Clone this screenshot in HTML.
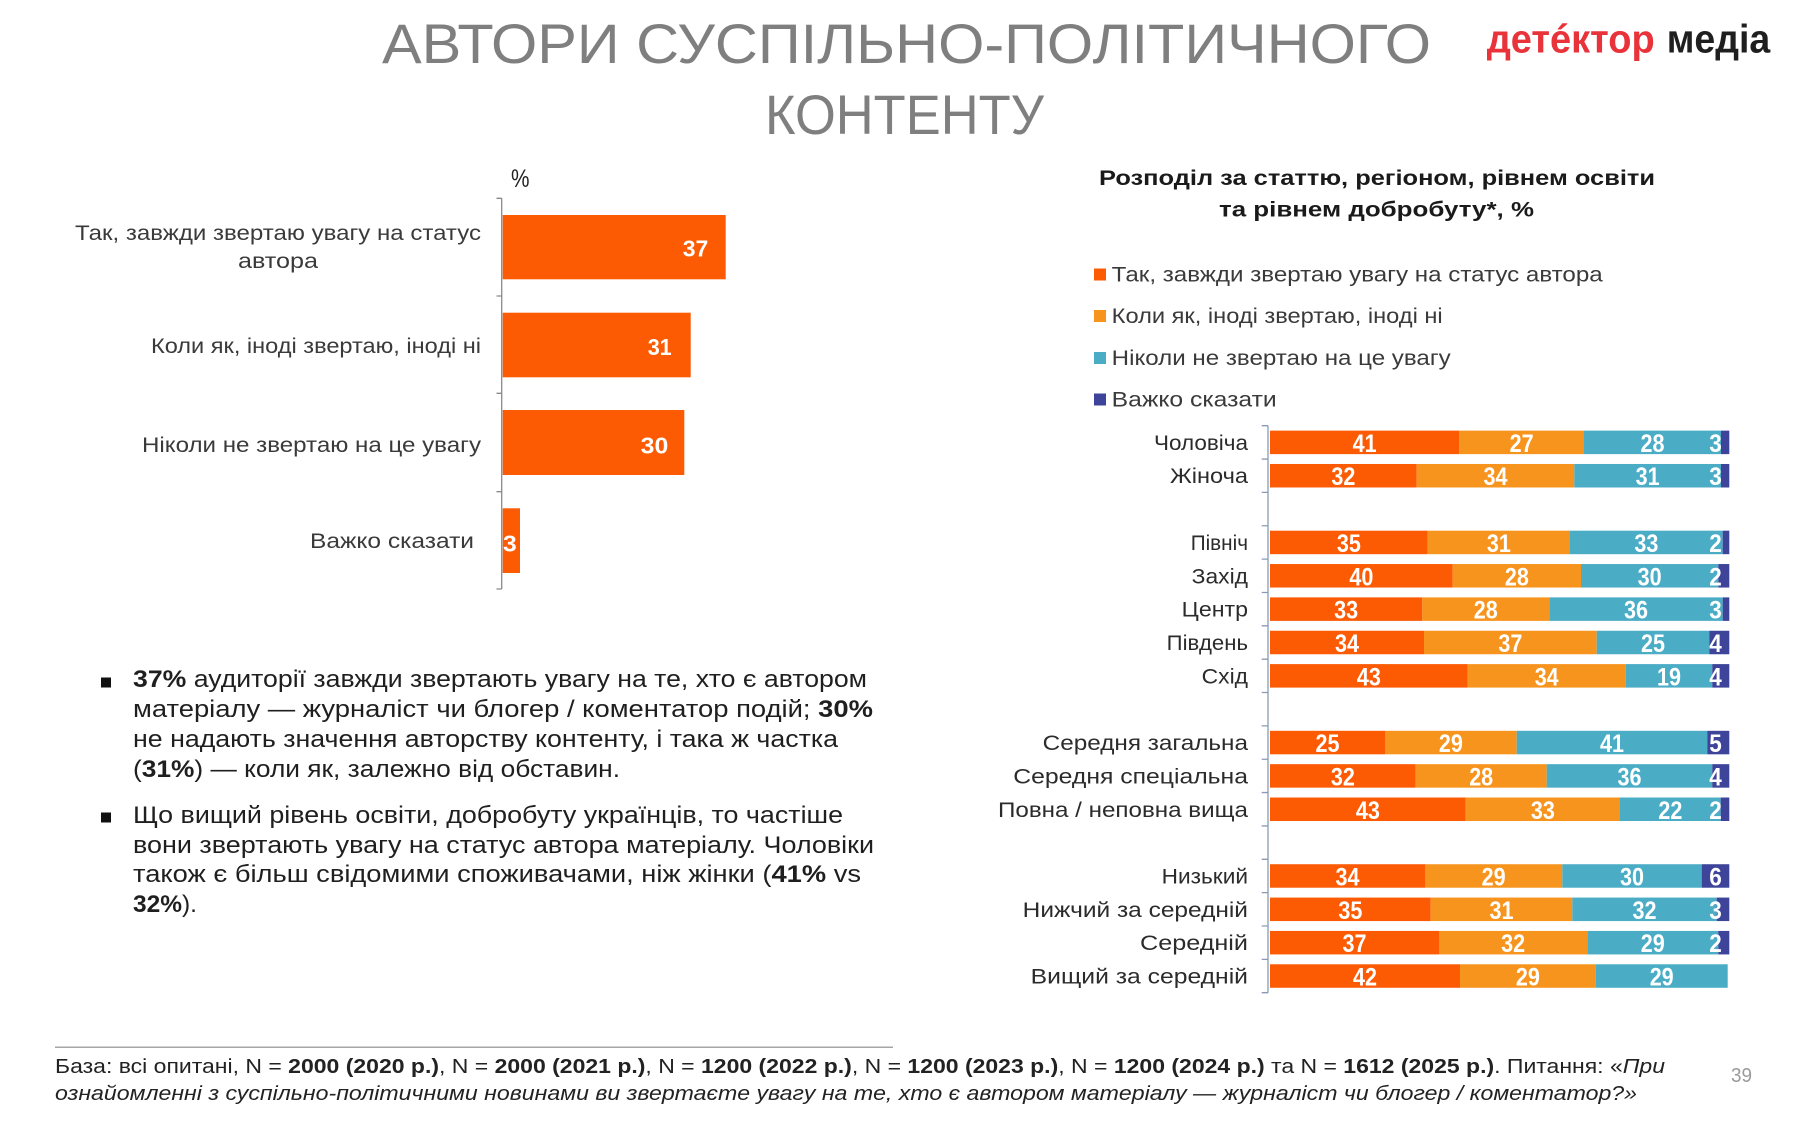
<!DOCTYPE html>
<html>
<head>
<meta charset="utf-8">
<style>
  html,body{margin:0;padding:0;background:#fff;}
  body{width:1800px;height:1125px;overflow:hidden;}
  svg{display:block;}
  text{font-family:"Liberation Sans", "DejaVu Sans", sans-serif;}
  .title{font-size:56px;fill:#7f7f7f;}
  .lab{font-size:21px;fill:#3a3a3a;}
  .cat{font-size:21px;fill:#2b2b2b;}
  .val{font-size:25px;font-weight:bold;fill:#fff;}
  .lval{font-size:23px;font-weight:bold;fill:#fff;}
  .bul{font-size:24px;fill:#1f1f1f;}
  .foot{font-size:20px;fill:#222;}
  .b{font-weight:bold;}
</style>
</head>
<body>
<svg width="1800" height="1125" viewBox="0 0 1800 1125" xmlns="http://www.w3.org/2000/svg">
  <rect x="0" y="0" width="1800" height="1125" fill="#fff"/>

  <!-- Title -->
  <text class="title" x="382" y="63" textLength="1049" lengthAdjust="spacingAndGlyphs">АВТОРИ СУСПІЛЬНО-ПОЛІТИЧНОГО</text>
  <text class="title" x="765" y="134" textLength="279" lengthAdjust="spacingAndGlyphs">КОНТЕНТУ</text>

  <!-- Logo -->
  <text x="1486.7" y="52.7" font-size="40" font-weight="bold" fill="#e8333a" textLength="168" lengthAdjust="spacingAndGlyphs">детéктор</text>
  <text x="1666.7" y="52.7" font-size="40" font-weight="bold" fill="#1f1f1f" textLength="103.5" lengthAdjust="spacingAndGlyphs">медіа</text>

  <!-- LEFT CHART -->
  <text x="511" y="187" font-size="25" fill="#222" textLength="18.5" lengthAdjust="spacingAndGlyphs">%</text>
  <line x1="501.7" y1="198.3" x2="501.7" y2="589" stroke="#8a8a8a" stroke-width="1.3"/>
  <path d="M496.5 198.3H501.7M496.5 296H501.7M496.5 393.3H501.7M496.5 491.7H501.7M496.5 589H501.7" stroke="#8a8a8a" stroke-width="1.3"/>

  <rect x="502.7" y="215" width="223" height="64.3" fill="#fc5a03"/>
  <rect x="502.7" y="312.7" width="188" height="64.6" fill="#fc5a03"/>
  <rect x="502.7" y="410" width="181.6" height="65" fill="#fc5a03"/>
  <rect x="502.7" y="508.3" width="17.3" height="64.7" fill="#fc5a03"/>

  <text class="lval" x="682.7" y="256.7" textLength="25.6" lengthAdjust="spacingAndGlyphs">37</text>
  <text class="lval" x="647.7" y="355" textLength="24" lengthAdjust="spacingAndGlyphs">31</text>
  <text class="lval" x="640.7" y="453.3" textLength="27.6" lengthAdjust="spacingAndGlyphs">30</text>
  <text class="lval" x="503" y="551.7" textLength="13.7" lengthAdjust="spacingAndGlyphs">3</text>

  <text class="lab" x="75" y="240" textLength="406" lengthAdjust="spacingAndGlyphs">Так, завжди звертаю увагу на статус</text>
  <text class="lab" x="238" y="268" textLength="80" lengthAdjust="spacingAndGlyphs">автора</text>
  <text class="lab" x="151" y="353" textLength="330" lengthAdjust="spacingAndGlyphs">Коли як, іноді звертаю, іноді ні</text>
  <text class="lab" x="142" y="452" textLength="339" lengthAdjust="spacingAndGlyphs">Ніколи не звертаю на це увагу</text>
  <text class="lab" x="310" y="548" textLength="164" lengthAdjust="spacingAndGlyphs">Важко сказати</text>

  <!-- Bullets -->
  <rect x="101" y="677.5" width="10" height="10" fill="#111"/>
  <rect x="101" y="812.5" width="10" height="10" fill="#111"/>
  <text class="bul" x="133" y="687" textLength="734" lengthAdjust="spacingAndGlyphs"><tspan class="b">37%</tspan> аудиторії завжди звертають увагу на те, хто є автором</text>
  <text class="bul" x="133" y="717" textLength="740" lengthAdjust="spacingAndGlyphs">матеріалу — журналіст чи блогер / коментатор подій; <tspan class="b">30%</tspan></text>
  <text class="bul" x="133" y="747" textLength="705" lengthAdjust="spacingAndGlyphs">не надають значення авторству контенту, і така ж частка</text>
  <text class="bul" x="133" y="777" textLength="487" lengthAdjust="spacingAndGlyphs">(<tspan class="b">31%</tspan>) — коли як, залежно від обставин.</text>
  <text class="bul" x="133" y="823" textLength="710" lengthAdjust="spacingAndGlyphs">Що вищий рівень освіти, добробуту українців, то частіше</text>
  <text class="bul" x="133" y="853" textLength="741" lengthAdjust="spacingAndGlyphs">вони звертають увагу на статус автора матеріалу. Чоловіки</text>
  <text class="bul" x="133" y="882" textLength="728" lengthAdjust="spacingAndGlyphs">також є більш свідомими споживачами, ніж жінки (<tspan class="b">41%</tspan> vs</text>
  <text class="bul" x="133" y="912" textLength="64" lengthAdjust="spacingAndGlyphs"><tspan class="b">32%</tspan>).</text>

  <!-- RIGHT CHART title -->
  <text x="1099" y="185" font-size="21" font-weight="bold" fill="#1a1a1a" textLength="556" lengthAdjust="spacingAndGlyphs">Розподіл за статтю, регіоном, рівнем освіти</text>
  <text x="1219" y="216.7" font-size="21" font-weight="bold" fill="#1a1a1a" textLength="315" lengthAdjust="spacingAndGlyphs">та рівнем добробуту*, %</text>

  <!-- Legend -->
  <rect x="1094" y="268.5" width="12" height="12" fill="#fc5a03"/>
  <rect x="1094" y="310" width="12" height="12" fill="#f7941e"/>
  <rect x="1094" y="352" width="12" height="12" fill="#4bacc6"/>
  <rect x="1094" y="393.5" width="12" height="12" fill="#3d4499"/>
  <text class="lab" x="1111.7" y="281.5" textLength="491" lengthAdjust="spacingAndGlyphs">Так, завжди звертаю увагу на статус автора</text>
  <text class="lab" x="1111.7" y="323" textLength="331" lengthAdjust="spacingAndGlyphs">Коли як, іноді звертаю, іноді ні</text>
  <text class="lab" x="1111.7" y="365" textLength="339" lengthAdjust="spacingAndGlyphs">Ніколи не звертаю на це увагу</text>
  <text class="lab" x="1111.7" y="406.5" textLength="165" lengthAdjust="spacingAndGlyphs">Важко сказати</text>

  <!-- Axis -->
  <line x1="1268" y1="425.7" x2="1268" y2="992.7" stroke="#8a9ab5" stroke-width="1.3"/>
  <path d="M1261.7 425.7H1268M1261.7 459.05H1268M1261.7 492.41H1268M1261.7 525.76H1268M1261.7 559.11H1268M1261.7 592.47H1268M1261.7 625.82H1268M1261.7 659.17H1268M1261.7 692.52H1268M1261.7 725.88H1268M1261.7 759.23H1268M1261.7 792.58H1268M1261.7 825.94H1268M1261.7 859.29H1268M1261.7 892.64H1268M1261.7 926H1268M1261.7 959.35H1268M1261.7 992.7H1268" stroke="#8a9ab5" stroke-width="1.3"/>

  <!-- Category labels -->
  <text class="cat" x="1154" y="449.9" textLength="94" lengthAdjust="spacingAndGlyphs">Чоловіча</text>
  <text class="cat" x="1170" y="483.2" textLength="78" lengthAdjust="spacingAndGlyphs">Жіноча</text>
  <text class="cat" x="1190.7" y="549.9" textLength="57.3" lengthAdjust="spacingAndGlyphs">Північ</text>
  <text class="cat" x="1191.7" y="583.3" textLength="56.3" lengthAdjust="spacingAndGlyphs">Захід</text>
  <text class="cat" x="1181.7" y="616.6" textLength="66.3" lengthAdjust="spacingAndGlyphs">Центр</text>
  <text class="cat" x="1166.7" y="650" textLength="81.3" lengthAdjust="spacingAndGlyphs">Південь</text>
  <text class="cat" x="1201.7" y="683.4" textLength="46.3" lengthAdjust="spacingAndGlyphs">Схід</text>
  <text class="cat" x="1042.7" y="750.1" textLength="205.3" lengthAdjust="spacingAndGlyphs">Середня загальна</text>
  <text class="cat" x="1013.3" y="783.4" textLength="234.7" lengthAdjust="spacingAndGlyphs">Середня спеціальна</text>
  <text class="cat" x="998" y="816.8" textLength="250" lengthAdjust="spacingAndGlyphs">Повна / неповна вища</text>
  <text class="cat" x="1161.7" y="883.5" textLength="86.3" lengthAdjust="spacingAndGlyphs">Низький</text>
  <text class="cat" x="1022.7" y="916.8" textLength="225.3" lengthAdjust="spacingAndGlyphs">Нижчий за середній</text>
  <text class="cat" x="1140" y="950.2" textLength="108" lengthAdjust="spacingAndGlyphs">Середній</text>
  <text class="cat" x="1030.7" y="983.5" textLength="217.3" lengthAdjust="spacingAndGlyphs">Вищий за середній</text>

  <!-- Bars -->
  <g>
    <rect x="1270" y="430.63" width="189.3" height="23.5" fill="#fc5a03"/>
    <rect x="1459.3" y="430.63" width="124.7" height="23.5" fill="#f7941e"/>
    <rect x="1584" y="430.63" width="137" height="23.5" fill="#4bacc6"/>
    <rect x="1721" y="430.63" width="8.3" height="23.5" fill="#3d4499"/>

    <rect x="1270" y="463.98" width="146.7" height="23.5" fill="#fc5a03"/>
    <rect x="1416.7" y="463.98" width="157.6" height="23.5" fill="#f7941e"/>
    <rect x="1574.3" y="463.98" width="146.7" height="23.5" fill="#4bacc6"/>
    <rect x="1721" y="463.98" width="8.3" height="23.5" fill="#3d4499"/>

    <rect x="1270" y="530.69" width="157.7" height="23.5" fill="#fc5a03"/>
    <rect x="1427.7" y="530.69" width="142.3" height="23.5" fill="#f7941e"/>
    <rect x="1570" y="530.69" width="152.7" height="23.5" fill="#4bacc6"/>
    <rect x="1722.7" y="530.69" width="6.6" height="23.5" fill="#3d4499"/>

    <rect x="1270" y="564.04" width="182.7" height="23.5" fill="#fc5a03"/>
    <rect x="1452.7" y="564.04" width="128.3" height="23.5" fill="#f7941e"/>
    <rect x="1581" y="564.04" width="137.3" height="23.5" fill="#4bacc6"/>
    <rect x="1718.3" y="564.04" width="11" height="23.5" fill="#3d4499"/>

    <rect x="1270" y="597.39" width="152.3" height="23.5" fill="#fc5a03"/>
    <rect x="1422.3" y="597.39" width="127" height="23.5" fill="#f7941e"/>
    <rect x="1549.3" y="597.39" width="173.4" height="23.5" fill="#4bacc6"/>
    <rect x="1722.7" y="597.39" width="6.6" height="23.5" fill="#3d4499"/>

    <rect x="1270" y="630.75" width="154" height="23.5" fill="#fc5a03"/>
    <rect x="1424" y="630.75" width="172.7" height="23.5" fill="#f7941e"/>
    <rect x="1596.7" y="630.75" width="112.6" height="23.5" fill="#4bacc6"/>
    <rect x="1709.3" y="630.75" width="20" height="23.5" fill="#3d4499"/>

    <rect x="1270" y="664.1" width="197.7" height="23.5" fill="#fc5a03"/>
    <rect x="1467.7" y="664.1" width="158" height="23.5" fill="#f7941e"/>
    <rect x="1625.7" y="664.1" width="86.6" height="23.5" fill="#4bacc6"/>
    <rect x="1712.3" y="664.1" width="17" height="23.5" fill="#3d4499"/>

    <rect x="1270" y="730.81" width="115" height="23.5" fill="#fc5a03"/>
    <rect x="1385" y="730.81" width="131.7" height="23.5" fill="#f7941e"/>
    <rect x="1516.7" y="730.81" width="190.6" height="23.5" fill="#4bacc6"/>
    <rect x="1707.3" y="730.81" width="22" height="23.5" fill="#3d4499"/>

    <rect x="1270" y="764.16" width="145.7" height="23.5" fill="#fc5a03"/>
    <rect x="1415.7" y="764.16" width="131" height="23.5" fill="#f7941e"/>
    <rect x="1546.7" y="764.16" width="165.6" height="23.5" fill="#4bacc6"/>
    <rect x="1712.3" y="764.16" width="17" height="23.5" fill="#3d4499"/>

    <rect x="1270" y="797.51" width="195.7" height="23.5" fill="#fc5a03"/>
    <rect x="1465.7" y="797.51" width="154.3" height="23.5" fill="#f7941e"/>
    <rect x="1620" y="797.51" width="100.7" height="23.5" fill="#4bacc6"/>
    <rect x="1720.7" y="797.51" width="8.6" height="23.5" fill="#3d4499"/>

    <rect x="1270" y="864.22" width="155" height="23.5" fill="#fc5a03"/>
    <rect x="1425" y="864.22" width="137.3" height="23.5" fill="#f7941e"/>
    <rect x="1562.3" y="864.22" width="139.4" height="23.5" fill="#4bacc6"/>
    <rect x="1701.7" y="864.22" width="27.6" height="23.5" fill="#3d4499"/>

    <rect x="1270" y="897.57" width="160.7" height="23.5" fill="#fc5a03"/>
    <rect x="1430.7" y="897.57" width="141.6" height="23.5" fill="#f7941e"/>
    <rect x="1572.3" y="897.57" width="144.4" height="23.5" fill="#4bacc6"/>
    <rect x="1716.7" y="897.57" width="12.6" height="23.5" fill="#3d4499"/>

    <rect x="1270" y="930.93" width="169" height="23.5" fill="#fc5a03"/>
    <rect x="1439" y="930.93" width="148.3" height="23.5" fill="#f7941e"/>
    <rect x="1587.3" y="930.93" width="131" height="23.5" fill="#4bacc6"/>
    <rect x="1718.3" y="930.93" width="11" height="23.5" fill="#3d4499"/>

    <rect x="1270" y="964.28" width="190" height="23.5" fill="#fc5a03"/>
    <rect x="1460" y="964.28" width="135.7" height="23.5" fill="#f7941e"/>
    <rect x="1595.7" y="964.28" width="132" height="23.5" fill="#4bacc6"/>
  </g>

  <!-- Value labels -->
  <g>
    <text class="val" x="1352.65" y="451.9" textLength="24" lengthAdjust="spacingAndGlyphs">41</text>
    <text class="val" x="1509.65" y="451.9" textLength="24" lengthAdjust="spacingAndGlyphs">27</text>
    <text class="val" x="1640.5" y="451.9" textLength="24" lengthAdjust="spacingAndGlyphs">28</text>
    <text class="val" x="1709.25" y="451.9" textLength="12.5" lengthAdjust="spacingAndGlyphs">3</text>

    <text class="val" x="1331.35" y="485.2" textLength="24" lengthAdjust="spacingAndGlyphs">32</text>
    <text class="val" x="1483.5" y="485.2" textLength="24" lengthAdjust="spacingAndGlyphs">34</text>
    <text class="val" x="1635.65" y="485.2" textLength="24" lengthAdjust="spacingAndGlyphs">31</text>
    <text class="val" x="1709.25" y="485.2" textLength="12.5" lengthAdjust="spacingAndGlyphs">3</text>

    <text class="val" x="1336.85" y="551.9" textLength="24" lengthAdjust="spacingAndGlyphs">35</text>
    <text class="val" x="1486.85" y="551.9" textLength="24" lengthAdjust="spacingAndGlyphs">31</text>
    <text class="val" x="1634.35" y="551.9" textLength="24" lengthAdjust="spacingAndGlyphs">33</text>
    <text class="val" x="1709.25" y="551.9" textLength="12.5" lengthAdjust="spacingAndGlyphs">2</text>

    <text class="val" x="1349.35" y="585.3" textLength="24" lengthAdjust="spacingAndGlyphs">40</text>
    <text class="val" x="1504.85" y="585.3" textLength="24" lengthAdjust="spacingAndGlyphs">28</text>
    <text class="val" x="1637.65" y="585.3" textLength="24" lengthAdjust="spacingAndGlyphs">30</text>
    <text class="val" x="1709.25" y="585.3" textLength="12.5" lengthAdjust="spacingAndGlyphs">2</text>

    <text class="val" x="1334.15" y="618.6" textLength="24" lengthAdjust="spacingAndGlyphs">33</text>
    <text class="val" x="1473.8" y="618.6" textLength="24" lengthAdjust="spacingAndGlyphs">28</text>
    <text class="val" x="1624" y="618.6" textLength="24" lengthAdjust="spacingAndGlyphs">36</text>
    <text class="val" x="1709.25" y="618.6" textLength="12.5" lengthAdjust="spacingAndGlyphs">3</text>

    <text class="val" x="1335" y="652" textLength="24" lengthAdjust="spacingAndGlyphs">34</text>
    <text class="val" x="1498.35" y="652" textLength="24" lengthAdjust="spacingAndGlyphs">37</text>
    <text class="val" x="1641" y="652" textLength="24" lengthAdjust="spacingAndGlyphs">25</text>
    <text class="val" x="1709.25" y="652" textLength="12.5" lengthAdjust="spacingAndGlyphs">4</text>

    <text class="val" x="1356.85" y="685.4" textLength="24" lengthAdjust="spacingAndGlyphs">43</text>
    <text class="val" x="1534.7" y="685.4" textLength="24" lengthAdjust="spacingAndGlyphs">34</text>
    <text class="val" x="1657" y="685.4" textLength="24" lengthAdjust="spacingAndGlyphs">19</text>
    <text class="val" x="1709.25" y="685.4" textLength="12.5" lengthAdjust="spacingAndGlyphs">4</text>

    <text class="val" x="1315.5" y="752.1" textLength="24" lengthAdjust="spacingAndGlyphs">25</text>
    <text class="val" x="1438.85" y="752.1" textLength="24" lengthAdjust="spacingAndGlyphs">29</text>
    <text class="val" x="1600" y="752.1" textLength="24" lengthAdjust="spacingAndGlyphs">41</text>
    <text class="val" x="1709.25" y="752.1" textLength="12.5" lengthAdjust="spacingAndGlyphs">5</text>

    <text class="val" x="1330.85" y="785.4" textLength="24" lengthAdjust="spacingAndGlyphs">32</text>
    <text class="val" x="1469.2" y="785.4" textLength="24" lengthAdjust="spacingAndGlyphs">28</text>
    <text class="val" x="1617.5" y="785.4" textLength="24" lengthAdjust="spacingAndGlyphs">36</text>
    <text class="val" x="1709.25" y="785.4" textLength="12.5" lengthAdjust="spacingAndGlyphs">4</text>

    <text class="val" x="1355.85" y="818.8" textLength="24" lengthAdjust="spacingAndGlyphs">43</text>
    <text class="val" x="1530.85" y="818.8" textLength="24" lengthAdjust="spacingAndGlyphs">33</text>
    <text class="val" x="1658.35" y="818.8" textLength="24" lengthAdjust="spacingAndGlyphs">22</text>
    <text class="val" x="1709.25" y="818.8" textLength="12.5" lengthAdjust="spacingAndGlyphs">2</text>

    <text class="val" x="1335.5" y="885.5" textLength="24" lengthAdjust="spacingAndGlyphs">34</text>
    <text class="val" x="1481.65" y="885.5" textLength="24" lengthAdjust="spacingAndGlyphs">29</text>
    <text class="val" x="1620" y="885.5" textLength="24" lengthAdjust="spacingAndGlyphs">30</text>
    <text class="val" x="1709.25" y="885.5" textLength="12.5" lengthAdjust="spacingAndGlyphs">6</text>

    <text class="val" x="1338.35" y="918.8" textLength="24" lengthAdjust="spacingAndGlyphs">35</text>
    <text class="val" x="1489.5" y="918.8" textLength="24" lengthAdjust="spacingAndGlyphs">31</text>
    <text class="val" x="1632.5" y="918.8" textLength="24" lengthAdjust="spacingAndGlyphs">32</text>
    <text class="val" x="1709.25" y="918.8" textLength="12.5" lengthAdjust="spacingAndGlyphs">3</text>

    <text class="val" x="1342.5" y="952.2" textLength="24" lengthAdjust="spacingAndGlyphs">37</text>
    <text class="val" x="1501.15" y="952.2" textLength="24" lengthAdjust="spacingAndGlyphs">32</text>
    <text class="val" x="1640.8" y="952.2" textLength="24" lengthAdjust="spacingAndGlyphs">29</text>
    <text class="val" x="1709.25" y="952.2" textLength="12.5" lengthAdjust="spacingAndGlyphs">2</text>

    <text class="val" x="1353" y="985.5" textLength="24" lengthAdjust="spacingAndGlyphs">42</text>
    <text class="val" x="1515.85" y="985.5" textLength="24" lengthAdjust="spacingAndGlyphs">29</text>
    <text class="val" x="1649.7" y="985.5" textLength="24" lengthAdjust="spacingAndGlyphs">29</text>
  </g>

  <!-- Footer -->
  <line x1="55" y1="1047.3" x2="893" y2="1047.3" stroke="#a6a6a6" stroke-width="1.5"/>
  <text class="foot" x="55" y="1073" textLength="1610" lengthAdjust="spacingAndGlyphs">База: всі опитані, N = <tspan class="b">2000 (2020 р.)</tspan>, N = <tspan class="b">2000 (2021 р.)</tspan>, N = <tspan class="b">1200 (2022 р.)</tspan>, N = <tspan class="b">1200 (2023 р.)</tspan>, N = <tspan class="b">1200 (2024 р.)</tspan> та N = <tspan class="b">1612 (2025 р.)</tspan>. Питання: «<tspan font-style="italic">При</tspan></text>
  <text class="foot" x="55" y="1100" font-style="italic" textLength="1582" lengthAdjust="spacingAndGlyphs">ознайомленні з суспільно-політичними новинами ви звертаєте увагу на те, хто є автором матеріалу — журналіст чи блогер / коментатор?»</text>
  <text x="1731" y="1082" font-size="20" fill="#9a9a9a" textLength="21" lengthAdjust="spacingAndGlyphs">39</text>
</svg>
</body>
</html>
